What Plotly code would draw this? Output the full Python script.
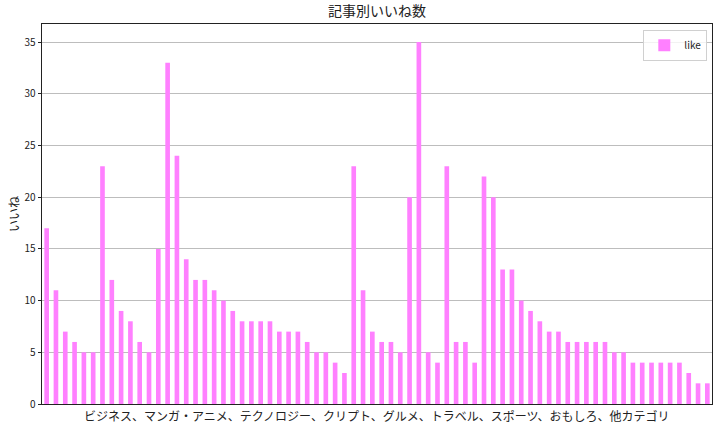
import plotly.graph_objects as go

title_text = "記事別いいね数"
y_label = "いいね"
x_label = "ビジネス、マンガ・アニメ、テクノロジー、クリプト、グルメ、トラベル、スポーツ、おもしろ、他カテゴリ"
series_name = "like"

likes = [17, 11, 7, 6, 5, 5, 23, 12, 9, 8, 6, 5, 15, 33, 24, 14, 12, 12,
         11, 10, 9, 8, 8, 8, 8, 7, 7, 7, 6, 5, 5, 4, 3, 23, 11, 7,
         6, 6, 5, 20, 35, 5, 4, 23, 6, 6, 4, 22, 20, 13, 13, 10, 9,
         8, 7, 7, 6, 6, 6, 6, 6, 5, 5, 4, 4, 4, 4, 4, 4, 3, 2, 2]
articles = list(range(len(likes)))
y_ticks = [0, 5, 10, 15, 20, 25, 30, 35]

font_family = "Noto Sans CJK JP, DejaVu Sans, sans-serif"

fig = go.Figure()
fig.add_trace(go.Bar(
    x=articles, y=likes, name=series_name,
    marker=dict(color="#ff80ff", line=dict(width=0)),
    showlegend=True,
))

fig.update_layout(
    width=722, height=427,
    margin=dict(l=42, r=10, t=24, b=23),
    paper_bgcolor="white", plot_bgcolor="white",
    font=dict(family=font_family, size=10, color="#222"),
    bargap=0.5,
    showlegend=True,
    legend=dict(
        x=0.993, y=0.985, xanchor="right", yanchor="top",
        bgcolor="rgba(255,255,255,0.8)", bordercolor="#d0d0d0", borderwidth=1,
        font=dict(size=10, color="#222"),
        itemwidth=30,
    ),
    xaxis=dict(
        range=[-0.5, len(likes) - 0.5], showticklabels=False, ticks="",
        showgrid=False, zeroline=False,
        showline=True, linecolor="#222", linewidth=1, mirror=True,
    ),
    yaxis=dict(
        range=[0, 36.75], tickvals=y_ticks, ticks="outside", ticklen=3.5,
        tickcolor="#222", tickwidth=1,
        showgrid=True, gridcolor="#bdbdbd", gridwidth=1, zeroline=False,
        showline=True, linecolor="#222", linewidth=1, mirror=True,
        tickfont=dict(size=10),
    ),
    annotations=[
        dict(text=title_text, xref="paper", yref="paper", x=0.5, y=1,
             yshift=2, xanchor="center", yanchor="bottom", showarrow=False,
             font=dict(size=14, color="#222")),
        dict(text=x_label, xref="paper", yref="paper", x=0.5, y=0,
             yshift=-1, xanchor="center", yanchor="top", showarrow=False,
             font=dict(size=12, color="#222")),
        dict(text=y_label, xref="paper", yref="paper", x=0, y=0.5,
             xshift=-29, xanchor="center", yanchor="middle", showarrow=False,
             textangle=-90, font=dict(size=12, color="#222")),
    ],
)

fig.write_html(
    "out.html",
    config={"displayModeBar": False},
    post_script="document.body.style.margin='0';document.body.style.overflow='hidden';",
)
